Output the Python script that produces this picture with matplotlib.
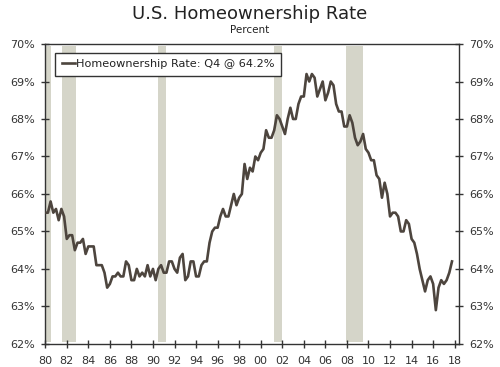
import numpy as np
import matplotlib
matplotlib.use("Agg")
import matplotlib.pyplot as plt

start_year = 1980
rate = [
    65.5, 65.5, 65.8, 65.5,  # 1980
    65.6, 65.3, 65.6, 65.4,  # 1981
    64.8, 64.9, 64.9, 64.5,  # 1982
    64.7, 64.7, 64.8, 64.4,  # 1983
    64.6, 64.6, 64.6, 64.1,  # 1984
    64.1, 64.1, 63.9, 63.5,  # 1985
    63.6, 63.8, 63.8, 63.9,  # 1986
    63.8, 63.8, 64.2, 64.1,  # 1987
    63.7, 63.7, 64.0, 63.8,  # 1988
    63.9, 63.8, 64.1, 63.8,  # 1989
    64.0, 63.7, 64.0, 64.1,  # 1990
    63.9, 63.9, 64.2, 64.2,  # 1991
    64.0, 63.9, 64.3, 64.4,  # 1992
    63.7, 63.8, 64.2, 64.2,  # 1993
    63.8, 63.8, 64.1, 64.2,  # 1994
    64.2, 64.7, 65.0, 65.1,  # 1995
    65.1, 65.4, 65.6, 65.4,  # 1996
    65.4, 65.7, 66.0, 65.7,  # 1997
    65.9, 66.0, 66.8, 66.4,  # 1998
    66.7, 66.6, 67.0, 66.9,  # 1999
    67.1, 67.2, 67.7, 67.5,  # 2000
    67.5, 67.7, 68.1, 68.0,  # 2001
    67.8, 67.6, 68.0, 68.3,  # 2002
    68.0, 68.0, 68.4, 68.6,  # 2003
    68.6, 69.2, 69.0, 69.2,  # 2004
    69.1, 68.6, 68.8, 69.0,  # 2005
    68.5, 68.7, 69.0, 68.9,  # 2006
    68.4, 68.2, 68.2, 67.8,  # 2007
    67.8, 68.1, 67.9, 67.5,  # 2008
    67.3, 67.4, 67.6, 67.2,  # 2009
    67.1, 66.9, 66.9, 66.5,  # 2010
    66.4, 65.9, 66.3, 66.0,  # 2011
    65.4, 65.5, 65.5, 65.4,  # 2012
    65.0, 65.0, 65.3, 65.2,  # 2013
    64.8, 64.7, 64.4, 64.0,  # 2014
    63.7, 63.4, 63.7, 63.8,  # 2015
    63.6, 62.9, 63.5, 63.7,  # 2016
    63.6, 63.7, 63.9, 64.2,  # 2017
]
recession_start = [1980.0, 1981.55, 1990.5, 2001.25, 2007.95]
recession_end = [1980.5, 1982.85, 1991.25, 2001.95, 2009.5]
x_tick_years = list(range(1980, 2019, 2))
x_tick_labels = [f"{y % 100:02d}" for y in x_tick_years]
y_ticks = [62, 63, 64, 65, 66, 67, 68, 69, 70]
y_tick_labels = [f"{v}%" for v in y_ticks]
legend_label = "Homeownership Rate: Q4 @ 64.2%"

t = start_year + np.arange(len(rate)) / 4.0

fig = plt.figure(figsize=(5.0, 3.67), dpi=100)
ax = fig.add_axes([0.09, 0.063, 0.828, 0.817])

for s, e in zip(recession_start, recession_end):
    ax.axvspan(s, e, ymin=0.005, ymax=0.995, color="#d5d5c9", lw=0, zorder=1)

ax.plot(t, rate, color="#4d453e", lw=1.9, zorder=3, label=legend_label)

ax.set_xlim(1979.98, 2018.4)
ax.set_ylim(62, 70)
ax.set_xticks(x_tick_years)
ax.set_xticklabels(x_tick_labels)
ax.set_yticks(y_ticks)
ax.set_yticklabels(y_tick_labels)
ax.tick_params(axis="both", labelsize=8, colors="#333333", direction="inout", length=6, width=1)
ax.tick_params(axis="x", pad=5.5)
ax.tick_params(axis="y", left=True, right=True, labelleft=True, labelright=True, pad=4.5)

for sp in ax.spines.values():
    sp.set_color("#333333")
    sp.set_linewidth(1)

leg = ax.legend(loc="upper left", bbox_to_anchor=(0.01, 0.99), fontsize=8.1,
                handlelength=1.2, handletextpad=0.1, borderpad=0.6,
                fancybox=False, framealpha=1, edgecolor="#333333")
leg.get_frame().set_linewidth(1)
for txt in leg.get_texts():
    txt.set_color("#222222")

fig.text(0.5, 0.962, "U.S. Homeownership Rate", ha="center", va="center",
         fontsize=13, color="#222222")
fig.text(0.5, 0.918, "Percent", ha="center", va="center", fontsize=7.5, color="#222222")

fig.savefig("out.png", dpi=100)
